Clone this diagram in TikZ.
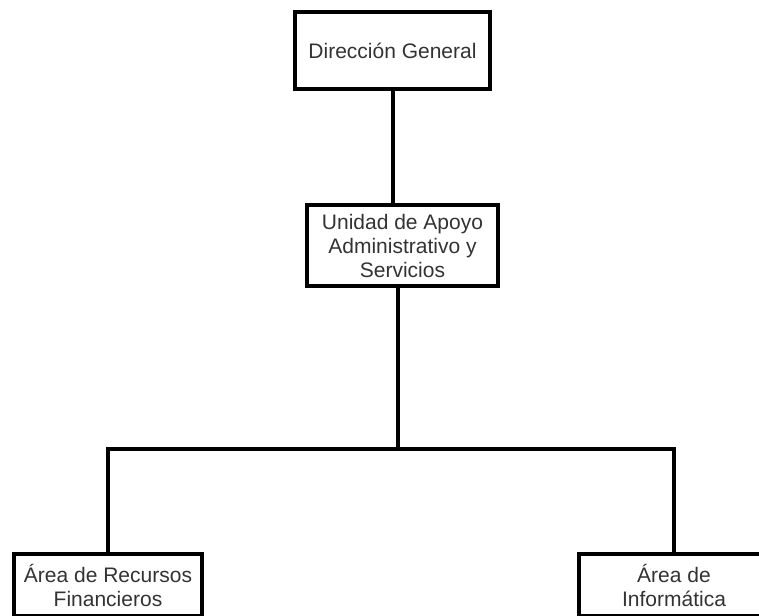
\documentclass[tikz,border=0pt]{standalone}
\usepackage{fontspec}
\setmainfont{Liberation Sans}
\usetikzlibrary{calc}
\definecolor{labeltext}{HTML}{333333}
\tikzset{
  unitbox/.style={draw=black, line width=4pt, fill=white, outer sep=0pt,
    inner sep=0pt, align=center, text=labeltext,
    font=\fontsize{21}{24}\selectfont},
  link/.style={draw=black, line width=4pt}
}
\begin{document}
\begin{tikzpicture}[x=1pt, y=-1pt]
  \useasboundingbox (0,0) rectangle (759,615);
  \clip (0,0) rectangle (759,615);
  \fill[white] (0,0) rectangle (759,615);

  % org chart units
  \node[unitbox, minimum width=195pt, minimum height=77pt] (dg) at (392.5,50.5)
    {Dirección General};
  \node[unitbox, minimum width=191pt, minimum height=81pt] (uaas) at (402.5,245.5)
    {Unidad de Apoyo\\Administrativo y\\Servicios};
  \node[unitbox, minimum width=188pt, minimum height=62pt] (arf) at (108,585)
    {Área de Recursos\\Financieros};
  \node[unitbox, minimum width=190pt, minimum height=62pt] (ai) at (674,585)
    {Área de\\Informática};

  % branch points
  \coordinate (down) at ($(uaas.south)+(-4.5,0)$);
  \coordinate (bar) at ($(down)+(0,163)$);

  % connectors
  \draw[link] (dg.south) -- (dg.south |- uaas.north);
  \draw[link] (down) -- (bar);
  \draw[link, line cap=rect] (arf.north) -- (arf.north |- bar) -- (ai.north |- bar) -- (ai.north);
\end{tikzpicture}
\end{document}
